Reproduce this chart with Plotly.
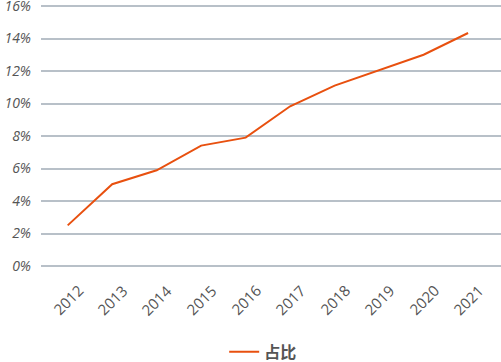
import plotly.graph_objects as go

years = ["2012", "2013", "2014", "2015", "2016", "2017", "2018", "2019", "2020", "2021"]
share = [2.5, 5.03, 5.89, 7.41, 7.9, 9.83, 11.1, 12.04, 13.0, 14.34]
y_ticks = [0, 2, 4, 6, 8, 10, 12, 14, 16]
y_tick_labels = [f"{v}%" for v in y_ticks]

xs = list(range(len(years)))

fig = go.Figure()
fig.add_trace(go.Scatter(
    x=xs, y=share, mode="lines", name="占比",
    line=dict(color="#E8500F", width=2),
))

# rotated category labels centred under each category
for i, lab in zip(xs, years):
    fig.add_annotation(
        x=i, y=0, xref="x", yref="paper", text=lab, showarrow=False,
        textangle=-45, xanchor="center", yanchor="top", yshift=-9,
        font=dict(family="Open Sans", size=15, color="#555555"),
    )

fig.update_layout(
    width=501, height=362,
    margin=dict(l=41, r=0, t=3, b=93, autoexpand=False),
    paper_bgcolor="white", plot_bgcolor="white",
    showlegend=True,
    legend=dict(orientation="h", x=0.483, xanchor="center", yref="container", y=0.028, yanchor="middle",
                font=dict(family="Noto Sans CJK SC", size=16, color="#555555", weight="bold")),
    xaxis=dict(
        tickmode="array", tickvals=xs, ticktext=years, showticklabels=False,
        range=[-0.6, 9.74], showgrid=False, zeroline=False, showline=False,
        ticks="", automargin=False,
    ),
    yaxis=dict(
        range=[-0.185, 16.185], tickmode="array", tickvals=y_ticks, ticktext=y_tick_labels,
        showgrid=True, gridcolor="#B8C0C8", gridwidth=1.5, zeroline=False,
        showline=False, ticks="", ticklabelstandoff=9, automargin=False,
        ticklabeloverflow="allow",
        tickfont=dict(family="Open Sans", size=14, color="#555555", style="italic"),
    ),
)

fig.write_html(
    "out.html",
    config={"displayModeBar": False},
    post_script="document.body.style.margin='0';document.body.style.overflow='hidden';",
)
